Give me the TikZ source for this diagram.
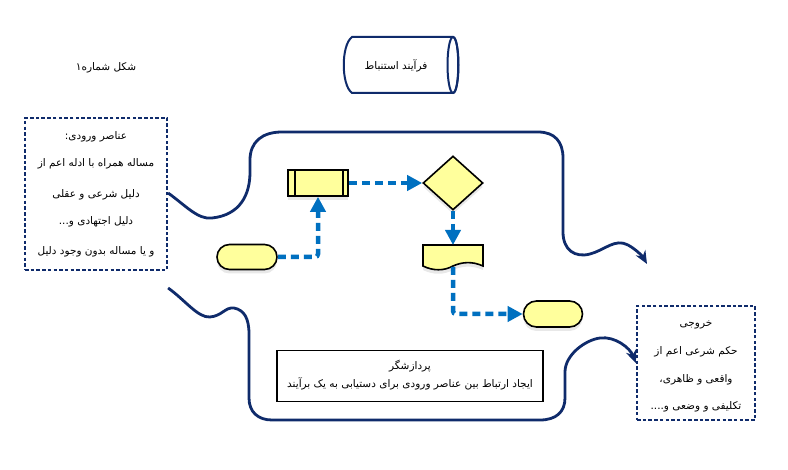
\documentclass[tikz,border=0pt]{standalone}
\usepackage{fontspec}
\TeXXeTstate=1
\newfontfamily\fa[Script=Arabic]{DejaVu Sans}
\usetikzlibrary{shapes.geometric,shapes.misc,arrows.meta,shadows}
\definecolor{navy}{HTML}{0F2B6B}
\definecolor{flowblue}{HTML}{0070C0}
\definecolor{pale}{HTML}{FFFF9C}
\tikzset{
  fatxt/.style={font=\fa\fontsize{10.5}{12}\selectfont, inner sep=0pt},
  dotbox/.style={draw=navy, line width=2.2pt, dash pattern=on 3.5pt off 2.2pt},
  navyline/.style={draw=navy, line width=2.8pt, -{Stealth[length=13pt,width=11pt]}},
  yshape/.style={draw=black, line width=1.6pt, fill=pale, drop shadow={shadow xshift=0pt, shadow yshift=-4pt, opacity=0.18, fill=gray}},
  flow/.style={draw=flowblue, line width=4.5pt, dash pattern=on 8pt off 5pt, -{Triangle[length=15pt,width=15pt]}},
  procbox/.style={draw=black, line width=1.8pt, fill=white}
}
\begin{document}
\begin{tikzpicture}[x=1pt,y=-1pt]
\useasboundingbox[fill=white] (0,0) rectangle (788,470);

% title texts
\node[fatxt] (fig) at (106,68) {\beginR شکل شماره۱\endR};

% cylinder
\draw[draw=navy, line width=2pt, fill=white] (352,37) -- (453,37)
  .. controls (460,37) and (460,93) .. (453,93) -- (352,93)
  .. controls (341,85) and (341,45) .. (352,37) -- cycle;
\draw[draw=navy, line width=2pt] (453,65) ellipse [x radius=5.5, y radius=28];
\node[fatxt] (cyl) at (396,66) {\beginR فرآیند استنباط\endR};

% input box
\node[dotbox, minimum width=142pt, minimum height=152pt, inner sep=0pt] (inbox) at (96,194) {};
\node[fatxt] (in1) at (96,137) {\beginR عناصر ورودی:\endR};
\node[fatxt] (in2) at (96,164) {\beginR مساله همراه با ادله اعم از\endR};
\node[fatxt] (in3) at (96,195) {\beginR دلیل شرعی و عقلی\endR};
\node[fatxt] (in4) at (96,222) {\beginR دلیل اجتهادی و...\endR};
\node[fatxt] (in5) at (96,252) {\beginR و یا مساله بدون وجود دلیل\endR};

% output box
\node[dotbox, minimum width=118pt, minimum height=114pt, inner sep=0pt] (outbox) at (696,363) {};
\node[fatxt] (out1) at (696,325) {\beginR خروجی\endR};
\node[fatxt] (out2) at (696,352) {\beginR حکم شرعی اعم از\endR};
\node[fatxt] (out3) at (696,380) {\beginR واقعی و ظاهری،\endR};
\node[fatxt] (out4) at (696,407) {\beginR تکلیفی و وضعی و....\endR};

% navy curves
\coordinate (topend) at (647,264);
\draw[navyline] (inbox.east |- 0,193) .. controls (185,205) and (198,220) .. (212,218)
  .. controls (240,215) and (250,195) .. (250,172) -- (250,160)
  .. controls (250,142) and (262,132) .. (282,132) -- (538,132)
  .. controls (555,132) and (563,142) .. (563,158) -- (563,232)
  .. controls (563,250) and (575,258) .. (590,254)
  .. controls (605,250) and (615,238) .. (628,245)
  .. controls (637,250) and (643,257) .. (topend);
\draw[navyline] (inbox.east |- 0,288) .. controls (185,300) and (198,318) .. (210,317)
  .. controls (222,316) and (225,307) .. (234,308)
  .. controls (244,310) and (249,318) .. (249,334) -- (249,398)
  .. controls (249,412) and (258,420) .. (272,420) -- (540,420)
  .. controls (556,420) and (565,412) .. (565,398) -- (565,372)
  .. controls (565,355) and (585,340) .. (600,338)
  .. controls (615,336) and (630,348) .. (outbox.west |- 0,363);

% processor box
\node[procbox, minimum width=266pt, minimum height=51pt, inner sep=0pt] (proc) at (410,376) {};
\node[fatxt] (proc1) at (410,366) {\beginR پردازشگر\endR};
\node[fatxt] (proc2) at (410,384) {\beginR ایجاد ارتباط بین عناصر ورودی برای دستیابی به یک برآیند\endR};

% flowchart shapes
\node[yshape, rounded rectangle, minimum width=60pt, minimum height=25pt, inner sep=0pt] (lterm) at (247,257) {};
\node[yshape, rectangle, minimum width=60pt, minimum height=26pt, inner sep=0pt] (pp) at (318,183) {};
\draw[black, line width=1.6pt] ([xshift=8pt]pp.north west) -- ([xshift=8pt]pp.south west);
\draw[black, line width=1.6pt] ([xshift=-6pt]pp.north east) -- ([xshift=-6pt]pp.south east);
\node[yshape, diamond, minimum width=60pt, minimum height=54pt, inner sep=0pt] (dia) at (453,183) {};
\coordinate (doctop) at (453,245);
\coordinate (docbot) at (453,267);
\draw[yshape] (423,245) -- (483,245) -- (483,266) .. controls (472,261) and (462,262) .. (453,266) .. controls (444,271) and (433,271) .. (423,266) -- cycle;
\node[yshape, rounded rectangle, minimum width=59pt, minimum height=26pt, inner sep=0pt] (rterm) at (553,314) {};

% flow arrows
\draw[flow, rounded corners=3pt] (lterm.east) -| (pp.south);
\draw[flow] (pp.east) -- (dia.west);
\draw[flow] (dia.south) -- (doctop);
\draw[flow, rounded corners=3pt] (docbot) |- (rterm.west);
\end{tikzpicture}
\end{document}
